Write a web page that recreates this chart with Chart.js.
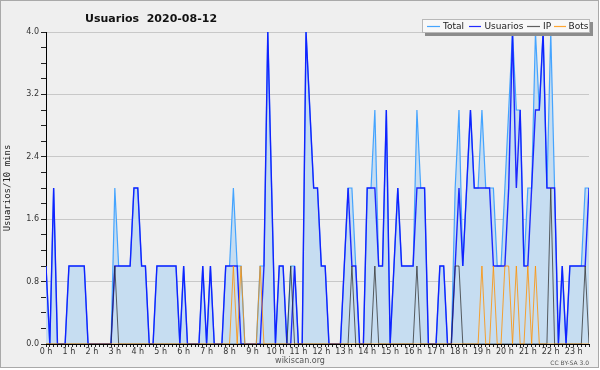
<!DOCTYPE html>
<html><head><meta charset="utf-8">
<script src="https://cdn.jsdelivr.net/npm/chart.js@4/dist/chart.umd.min.js"></script>
<style>html,body{margin:0;padding:0;background:#fff;}canvas{display:block;}</style>
</head><body>
<canvas id="c" width="600" height="370"></canvas>
<script>
const TITLE = 'Usuarios  2020-08-12';
const Y_TITLE = 'Usuarios/10 mins';
const SERIES_NAMES = ['Total', 'Usuarios', 'IP', 'Bots'];
const HOUR_LABELS = ['0 h','1 h','2 h','3 h','4 h','5 h','6 h','7 h','8 h','9 h','10 h','11 h',
                     '12 h','13 h','14 h','15 h','16 h','17 h','18 h','19 h','20 h','21 h','22 h','23 h'];
const Y_LABELS = ['0.0','0.8','1.6','2.4','3.2','4.0'];

// one value per 10 minutes, starting at 00:00
const total = [
  1,0,2,0,0,0,1,1,1,1,1,0,
  0,0,0,0,0,0,2,1,1,1,1,2,
  2,1,1,0,0,1,1,1,1,1,1,0,
  1,0,0,0,0,1,0,1,0,0,0,1,
  1,2,1,1,0,0,0,0,1,1,4,2,
  0,1,1,0,1,1,0,0,4,3,2,2,
  1,1,0,0,0,0,1,2,2,1,0,0,
  2,2,3,1,1,3,0,1,2,1,1,1,
  1,3,2,2,0,0,0,1,1,0,0,2,
  3,1,2,3,2,2,3,2,2,2,1,1,
  2,3,4,3,3,1,2,2,4,3,4,2,
  4,2,0,1,0,1,1,1,1,2,2
];
const usuarios = [
  1,0,2,0,0,0,1,1,1,1,1,0,
  0,0,0,0,0,0,1,1,1,1,1,2,
  2,1,1,0,0,1,1,1,1,1,1,0,
  1,0,0,0,0,1,0,1,0,0,0,1,
  1,1,1,0,0,0,0,0,0,1,4,2,
  0,1,1,0,0,1,0,0,4,3,2,2,
  1,1,0,0,0,0,1,2,1,1,0,0,
  2,2,2,1,1,3,0,1,2,1,1,1,
  1,2,2,2,0,0,0,1,1,0,0,1,
  2,1,2,3,2,2,2,2,2,1,1,1,
  1,2,4,2,3,1,1,2,3,3,4,2,
  2,2,0,1,0,1,1,1,1,1,2
];
const ip = [
  0,0,0,0,0,0,0,0,0,0,0,0,
  0,0,0,0,0,0,1,0,0,0,0,0,
  0,0,0,0,0,0,0,0,0,0,0,0,
  0,0,0,0,0,0,0,0,0,0,0,0,
  0,0,0,0,0,0,0,0,0,0,0,0,
  0,0,0,0,1,0,0,0,0,0,0,0,
  0,0,0,0,0,0,0,0,1,0,0,0,
  0,0,1,0,0,0,0,0,0,0,0,0,
  0,1,0,0,0,0,0,0,0,0,0,1,
  1,0,0,0,0,0,0,0,0,0,0,0,
  0,0,0,0,0,0,0,0,0,0,0,0,
  2,0,0,0,0,0,0,0,0,1,0
];
const bots = [
  0,0,0,0,0,0,0,0,0,0,0,0,
  0,0,0,0,0,0,0,0,0,0,0,0,
  0,0,0,0,0,0,0,0,0,0,0,0,
  0,0,0,0,0,0,0,0,0,0,0,0,
  0,1,0,1,0,0,0,0,1,0,0,0,
  0,0,0,0,0,0,0,0,0,0,0,0,
  0,0,0,0,0,0,0,0,0,0,0,0,
  0,0,0,0,0,0,0,0,0,0,0,0,
  0,0,0,0,0,0,0,0,0,0,0,0,
  0,0,0,0,0,0,1,0,0,1,0,0,
  1,1,0,1,0,0,1,0,1,0,0,0,
  0,0,0,0,0,0,0,0,0,0,0
];

const COLORS = {
  total: 'rgba(60,160,255,0.95)',
  fill: '#c6ddf1',
  usuarios: 'rgba(10,20,255,0.9)',
  ip: 'rgba(45,45,45,0.75)',
  bots: 'rgba(255,145,0,0.8)'
};

const toXY = arr => arr.map((v, i) => ({x: i, y: v}));
const FONT = '"DejaVu Sans", sans-serif';

const deco = {
  id: 'deco',
  beforeDraw(chart) {
    const c = chart.ctx;
    c.save();
    c.fillStyle = '#ffffff'; c.fillRect(0, 0, 600, 370);
    c.fillStyle = '#efefef'; c.fillRect(0, 0, 599, 368);
    c.strokeStyle = '#a9a9a9'; c.lineWidth = 1; c.strokeRect(0.5, 0.5, 598, 367);
    c.restore();
  },
  afterDraw(chart) {
    const c = chart.ctx;
    c.save();
    c.font = 'bold 11px ' + FONT;
    c.fillStyle = '#111'; c.textAlign = 'left'; c.textBaseline = 'alphabetic';
    c.fillText(TITLE, 85, 22);
    // legend box with shadow
    c.fillStyle = '#8c8c8c'; c.fillRect(425, 22, 168, 14);
    c.fillStyle = '#f8f8f8'; c.fillRect(422, 19, 168, 14);
    c.strokeStyle = '#b8b8b8'; c.lineWidth = 1; c.strokeRect(422.5, 19.5, 167, 13);
    const items = [
      [427, 440, 443, COLORS.total],
      [469, 481, 484.5, COLORS.usuarios],
      [527, 540, 543, COLORS.ip],
      [554, 566, 568.5, COLORS.bots]
    ];
    c.font = '9px ' + FONT; c.textBaseline = 'middle';
    items.forEach((it, k) => {
      c.strokeStyle = it[3]; c.lineWidth = 1.2;
      c.beginPath(); c.moveTo(it[0], 26.5); c.lineTo(it[1], 26.5); c.stroke();
      c.fillStyle = '#222'; c.fillText(SERIES_NAMES[k], it[2], 26.5);
    });
    // footer
    c.fillStyle = '#555';
    c.font = '8px ' + FONT; c.textAlign = 'center';
    c.fillText('wikiscan.org', 300, 361);
    c.font = '6px ' + FONT; c.textAlign = 'right';
    c.fillText('CC BY-SA 3.0', 589, 363);
    c.restore();
  }
};

new Chart(document.getElementById('c'), {
  type: 'line',
  data: {
    datasets: [
      {label: SERIES_NAMES[0], data: toXY(total), borderColor: COLORS.total, backgroundColor: COLORS.fill,
       fill: 'origin', borderWidth: 1.2, pointRadius: 0, tension: 0, order: 4},
      {label: SERIES_NAMES[1], data: toXY(usuarios), borderColor: COLORS.usuarios,
       fill: false, borderWidth: 1.4, pointRadius: 0, tension: 0, order: 3},
      {label: SERIES_NAMES[2], data: toXY(ip), borderColor: COLORS.ip,
       fill: false, borderWidth: 1, pointRadius: 0, tension: 0, order: 2},
      {label: SERIES_NAMES[3], data: toXY(bots), borderColor: COLORS.bots,
       fill: false, borderWidth: 1, pointRadius: 0, tension: 0, order: 1}
    ]
  },
  options: {
    responsive: false,
    animation: false,
    devicePixelRatio: 1,
    layout: {padding: {top: 32, right: 11, left: 0, bottom: 0}},
    plugins: {legend: {display: false}, tooltip: {enabled: false}},
    scales: {
      x: {
        type: 'linear', min: 0, max: total.length - 1,
        ticks: {
          stepSize: 1, autoSkip: false, maxRotation: 0, minRotation: 0, padding: 0,
          font: {family: FONT, size: 8}, color: '#333',
          callback: v => (v % 6 === 0 && HOUR_LABELS[v / 6] !== undefined) ? HOUR_LABELS[v / 6] : ''
        },
        grid: {drawOnChartArea: false, drawTicks: true, tickLength: 3, tickColor: '#222', tickWidth: 1},
        border: {display: true, color: '#000', width: 1},
        afterFit(s) { s.height = 26; }
      },
      y: {
        min: 0, max: 4,
        ticks: {
          stepSize: 0.2, autoSkip: false, padding: 2,
          font: {family: FONT, size: 8}, color: '#333',
          callback: v => { const k = Math.round(v * 5); return k % 4 === 0 ? Y_LABELS[k / 4] : ''; }
        },
        grid: {
          color: ctx => (ctx.tick && ctx.tick.value > 0.01 && Math.round(ctx.tick.value * 5) % 4 === 0) ? '#c8c8c8' : 'rgba(0,0,0,0)',
          tickColor: '#222', tickLength: 5, drawTicks: true
        },
        border: {display: true, color: '#000', width: 1},
        title: {display: true, text: Y_TITLE, font: {family: '"DejaVu Sans Mono", monospace', size: 9},
                color: '#222', padding: {top: 2, bottom: 0}},
        afterFit(s) { s.width = 46; }
      }
    }
  },
  plugins: [deco]
});
</script>
</body></html>
